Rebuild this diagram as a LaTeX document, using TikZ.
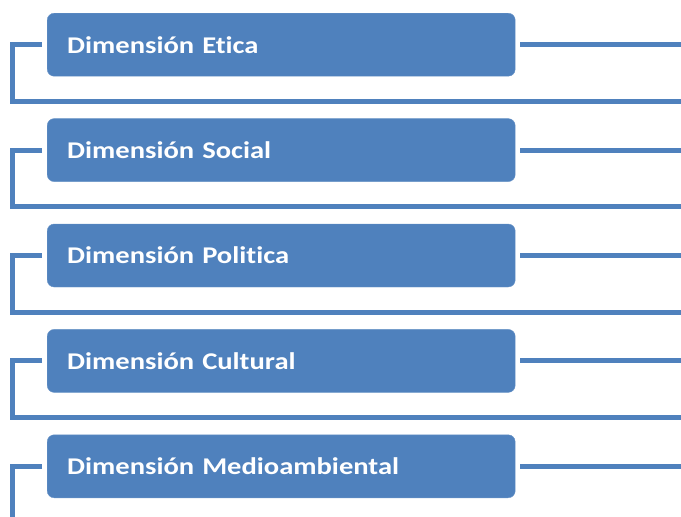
\documentclass[tikz,border=0pt]{standalone}
\usepackage{fontspec}
\setmainfont{Carlito}
\newfontfamily\dimfont{Carlito}[FakeStretch=1.19, Ligatures=NoCommon]
\usetikzlibrary{positioning,calc}
\definecolor{dimblue}{HTML}{4F81BD}

\begin{document}
\begin{tikzpicture}[
  x=1pt, y=-1pt,
  node distance=42pt,
  dimbox/.style={fill=dimblue, draw=dimblue!85!white, rounded corners=7pt, minimum width=468pt, minimum height=63pt, text width=428pt, inner xsep=20pt, align=left, text=white, font=\dimfont\fontsize{24}{28}\selectfont\bfseries},
  link/.style={draw=dimblue, line width=5pt}
]
\useasboundingbox (0,0) rectangle (681,517);
\coordinate (rgt) at (681,0);
\coordinate (lft) at (12,0);
\coordinate (bot) at (0,517);

\node[dimbox, anchor=north west] (etica) at (47,13) {Dimensión Etica};
\node[dimbox, below=of etica] (social) {Dimensión Social};
\node[dimbox, below=of social] (politica) {Dimensión Politica};
\node[dimbox, below=of politica] (cultural) {Dimensión Cultural};
\node[dimbox, below=of cultural] (medio) {Dimensión Medioambiental};

% lines out to the right
\foreach \n in {etica,social,politica,cultural,medio}
  \draw[link] ([xshift=5pt]\n.east) -- (\n.east -| rgt);

% brackets on the left
\foreach \n in {etica,social,politica,cultural}
  \draw[link] ([xshift=-5pt]\n.west) -| ([yshift=-25pt]\n.south -| lft) -- ([yshift=-25pt]\n.south -| rgt);
\draw[link] ([xshift=-5pt]medio.west) -| (lft |- bot);
\end{tikzpicture}
\end{document}
